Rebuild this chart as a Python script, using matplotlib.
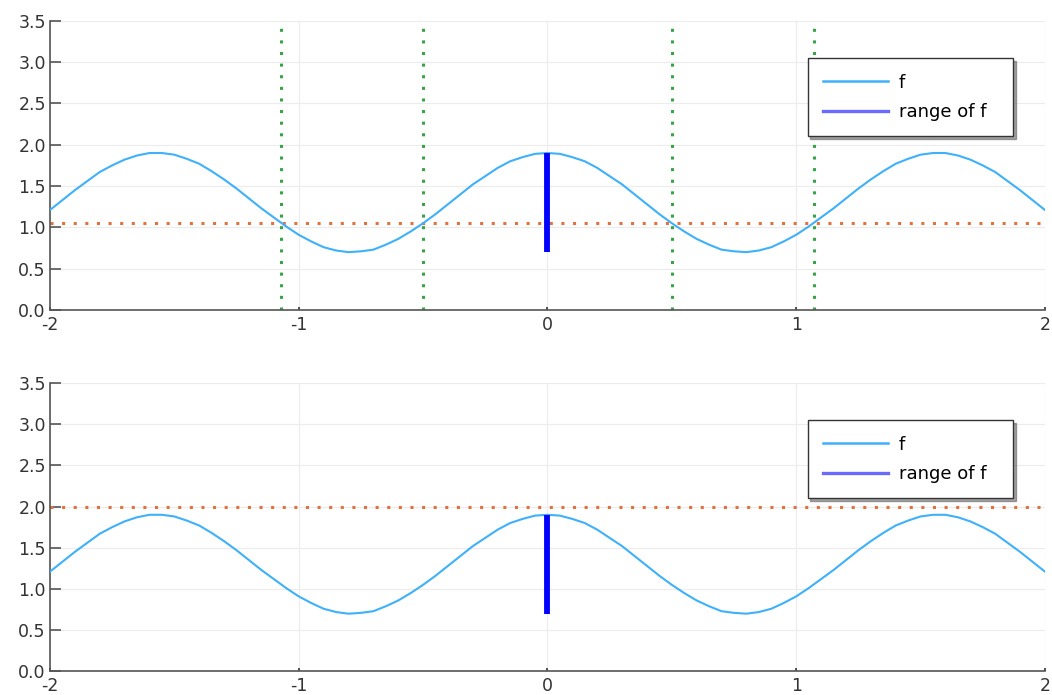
import numpy as np
import matplotlib
matplotlib.use("Agg")
import matplotlib.pyplot as plt
from matplotlib.lines import Line2D

# valores (f en x = -2 .. 2, paso 0.05)
x = np.linspace(-2, 2, 81)
f = [1.21, 1.33, 1.45, 1.56, 1.67, 1.75, 1.82, 1.87, 1.90, 1.90,
     1.88, 1.83, 1.77, 1.68, 1.58, 1.47, 1.35, 1.23, 1.12, 1.01,
     0.91, 0.83, 0.76, 0.72, 0.70, 0.71, 0.73, 0.79, 0.86, 0.95,
     1.05, 1.16, 1.28, 1.40, 1.52, 1.62, 1.72, 1.80, 1.85, 1.89,
     1.90,
     1.89, 1.85, 1.80, 1.72, 1.62, 1.52, 1.40, 1.28, 1.16, 1.05,
     0.95, 0.86, 0.79, 0.73, 0.71, 0.70, 0.72, 0.76, 0.83, 0.91,
     1.01, 1.12, 1.23, 1.35, 1.47, 1.58, 1.68, 1.77, 1.83, 1.88,
     1.90, 1.90, 1.87, 1.82, 1.75, 1.67, 1.56, 1.45, 1.33, 1.21]

rango_min, rango_max = 0.70, 1.90   # rango de f (barra azul en x=0)
niveles = [1.05, 2.0]               # linea horizontal de cada panel
cortes = [-1.07, -0.5, 0.5, 1.07]   # donde f cruza el nivel 1.05 (solo arriba)

xticks = [-2, -1, 0, 1, 2]
yticks = [0.0, 0.5, 1.0, 1.5, 2.0, 2.5, 3.0, 3.5]

c_f = '#3fb0fa'
c_rango = '#0000ff'
c_h = '#e3703f'
c_v = '#3aa34a'

fig = plt.figure(figsize=(10.52, 6.95), dpi=100)
ax1 = fig.add_axes([0.0475, 0.554, 0.9458, 0.416])
ax2 = fig.add_axes([0.0475, 0.034, 0.9458, 0.415])

for i, ax in enumerate([ax1, ax2]):
    ax.plot(x, f, color=c_f, lw=1.5, zorder=3, solid_joinstyle='round')
    ax.plot([0, 0], [rango_min, rango_max], color=c_rango, lw=4.2,
            solid_capstyle='butt', zorder=4)
    ax.axhline(niveles[i], color=c_h, lw=2.2, linestyle=(0, (1, 2.8)), zorder=2)
    if i == 0:
        for c in cortes:
            ax.axvline(c, color=c_v, lw=2.2, linestyle=(0, (1, 2.8)), zorder=2)

    ax.set_xlim(-2, 2)
    ax.set_ylim(0, 3.5)
    ax.set_xticks(xticks)
    ax.set_xticklabels([str(t) for t in xticks])
    ax.set_yticks(yticks)
    ax.set_yticklabels(['%.1f' % t for t in yticks])
    ax.grid(True, color='#ececec', lw=0.8)
    ax.set_axisbelow(True)
    for s in ['top', 'right']:
        ax.spines[s].set_visible(False)
    for s in ['left', 'bottom']:
        ax.spines[s].set_color('#555555')
        ax.spines[s].set_linewidth(1.2)
    ax.tick_params(axis='y', direction='in', length=8, width=1.2,
                   color='#555555', labelsize=12.5, labelcolor='#333333', pad=3)
    ax.tick_params(axis='x', direction='in', length=2, width=1.2,
                   color='#333333', labelsize=12.5, labelcolor='#333333', pad=4)

    handles = [Line2D([], [], color=c_f, lw=1.8),
               Line2D([], [], color='#6a6aff', lw=2.4)]
    leg = ax.legend(handles, ['f', 'range of f  '], loc='upper right',
                    bbox_to_anchor=(0.968, 0.87), fontsize=13,
                    frameon=True, fancybox=False,
                    shadow={'color': '0.4', 'alpha': 0.6},
                    handlelength=3.6, handletextpad=0.6,
                    borderpad=0.85, labelspacing=0.62,
                    borderaxespad=0)
    leg.get_frame().set_edgecolor('#333333')
    leg.get_frame().set_linewidth(1.0)

fig.savefig('out.png', dpi=100)
